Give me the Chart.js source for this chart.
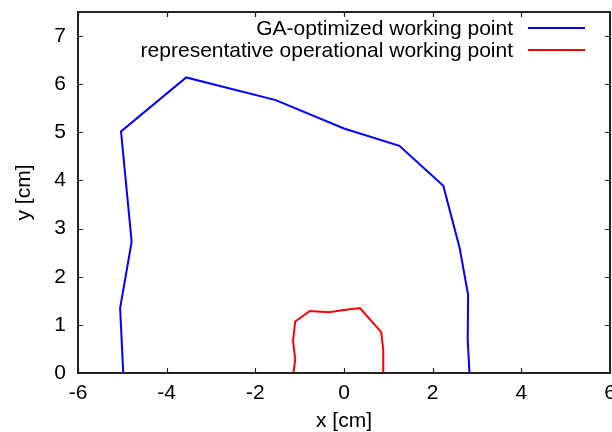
<!DOCTYPE html>
<html>
<head>
<style>
    body { margin: 0; background: #fff; }
    #wrap { width: 612px; height: 432px; }
</style>
</head>
<body>
    <div id="wrap"><canvas id="myChart"></canvas></div>
    <script src="https://cdn.jsdelivr.net/npm/chart.js"></script>

    <script>
        // GA-optimized working point (x, y in cm)
        const gaX = [-4.98, -5.05, -4.79, -5.03, -3.56, -1.54, 0.0, 1.25, 2.24, 2.61, 2.80, 2.79, 2.83]
        const gaY = [0, 1.35, 2.73, 5.02, 6.14, 5.67, 5.08, 4.72, 3.89, 2.59, 1.62, 0.70, 0]

        // representative operational working point
        const repX = [-1.14, -1.10, -1.15, -1.10, -0.77, -0.34, 0.0, 0.36, 0.84, 0.885, 0.885]
        const repY = [0, 0.28, 0.66, 1.07, 1.29, 1.26, 1.31, 1.35, 0.85, 0.48, 0]

        const seriesLabels = ['GA-optimized working point', 'representative operational working point']
        const seriesColors = ['#0000ff', '#ff0000']
        const xTicks = [-6, -4, -2, 0, 2, 4, 6]
        const yTicks = [0, 1, 2, 3, 4, 5, 6, 7]

        const FONT = 'Liberation Sans, Arial, Helvetica, sans-serif'
        const toPoints = (xs, ys) => xs.map((x, i) => ({ x: x, y: ys[i] }))

        // gnuplot-like frame with inward ticks on all four sides, plus legend on the right
        const framePlugin = {
            id: 'frame',
            afterDraw(chart) {
                const ctx = chart.ctx
                const a = chart.chartArea
                const xs = chart.scales.x
                const ys = chart.scales.y
                const tl = 5
                ctx.save()
                ctx.strokeStyle = '#222'
                ctx.lineWidth = 1.2
                xTicks.forEach((v) => {
                    const px = Math.round(xs.getPixelForValue(v)) + 0.5
                    ctx.beginPath()
                    ctx.moveTo(px, a.bottom); ctx.lineTo(px, a.bottom - tl)
                    ctx.moveTo(px, a.top); ctx.lineTo(px, a.top + tl)
                    ctx.stroke()
                })
                yTicks.forEach((v) => {
                    const py = Math.round(ys.getPixelForValue(v)) + 0.5
                    ctx.beginPath()
                    ctx.moveTo(a.left, py); ctx.lineTo(a.left + tl, py)
                    ctx.moveTo(a.right, py); ctx.lineTo(a.right - tl, py)
                    ctx.stroke()
                })
                ctx.lineWidth = 2
                ctx.strokeRect(a.left, a.top, a.right - a.left, a.bottom - a.top)

                // legend: text right aligned, line sample to the right
                ctx.font = '21px ' + FONT
                ctx.textAlign = 'right'
                ctx.textBaseline = 'middle'
                seriesLabels.forEach((label, i) => {
                    const y = a.top + 16 + i * 22
                    ctx.fillStyle = '#000'
                    ctx.fillText(label, a.left + 435, y + 1)
                    ctx.strokeStyle = seriesColors[i]
                    ctx.lineWidth = 2
                    ctx.beginPath()
                    ctx.moveTo(a.left + 450, y)
                    ctx.lineTo(a.left + 507, y)
                    ctx.stroke()
                })
                ctx.restore()
            }
        }

        const canvas = document.getElementById('myChart').getContext('2d')
        const chart = new Chart(canvas, {
            type: 'scatter',
            data: {
                datasets: [
                    {
                        label: seriesLabels[0],
                        data: toPoints(gaX, gaY),
                        showLine: true,
                        borderColor: seriesColors[0],
                        borderWidth: 2,
                        pointRadius: 0,
                        tension: 0,
                        fill: false
                    },
                    {
                        label: seriesLabels[1],
                        data: toPoints(repX, repY),
                        showLine: true,
                        borderColor: seriesColors[1],
                        borderWidth: 2,
                        pointRadius: 0,
                        tension: 0,
                        fill: false
                    }
                ]
            },
            options: {
                responsive: true,
                maintainAspectRatio: false,
                animation: false,
                layout: { padding: { top: 12, right: 2, left: 0, bottom: 0 } },
                plugins: {
                    legend: { display: false },
                    tooltip: { enabled: false }
                },
                scales: {
                    x: {
                        type: 'linear',
                        min: -6,
                        max: 6,
                        grid: { display: false, drawTicks: false },
                        border: { display: false },
                        ticks: {
                            padding: 8,
                            color: '#000',
                            maxRotation: 0,
                            autoSkip: false,
                            font: { family: FONT, size: 21 }
                        },
                        afterBuildTicks(scale) {
                            scale.ticks = xTicks.map(v => ({ value: v }))
                        },
                        title: {
                            display: true,
                            text: 'x [cm]',
                            color: '#000',
                            padding: 0,
                            font: { family: FONT, size: 21, lineHeight: 1 }
                        },
                        afterFit(scale) {
                            scale.height = 59
                            scale.paddingLeft = 0
                            scale.paddingRight = 0
                        }
                    },
                    y: {
                        type: 'linear',
                        min: 0,
                        max: 7.5,
                        grid: { display: false, drawTicks: false },
                        border: { display: false },
                        ticks: {
                            padding: 12,
                            color: '#000',
                            autoSkip: false,
                            font: { family: FONT, size: 21 }
                        },
                        afterBuildTicks(scale) {
                            scale.ticks = yTicks.map(v => ({ value: v }))
                        },
                        title: {
                            display: true,
                            text: 'y [cm]',
                            color: '#000',
                            padding: { top: 14, bottom: 0 },
                            font: { family: FONT, size: 21, lineHeight: 1 }
                        },
                        afterFit(scale) {
                            scale.width = 78
                            scale.paddingTop = 0
                            scale.paddingBottom = 0
                        }
                    }
                }
            },
            plugins: [framePlugin]
        })
    </script>
</body>
</html>
